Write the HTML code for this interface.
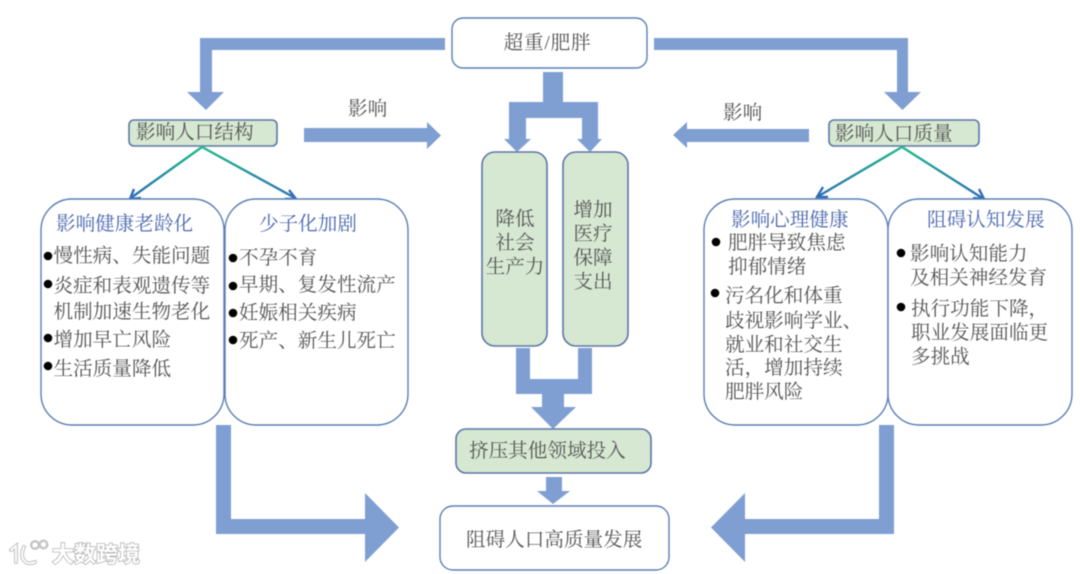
<!DOCTYPE html>
<html lang="zh">
<head>
<meta charset="utf-8">
<style>
html,body{margin:0;padding:0;background:#fff;width:1080px;height:574px;overflow:hidden}
svg{display:block;filter:blur(0.5px)}
text{font-family:"Liberation Serif","Noto Serif CJK SC",serif;font-size:19.6px;fill:#555;dominant-baseline:central;transform:translateY(1.4px)}
.t{fill:#4a68ad}
.m{text-anchor:middle}
.a{fill:#7f9fd3}
.w{fill:#fff;stroke:#5b7fb3;stroke-width:1.4}
.g{fill:#d6e8d2;stroke:#5b76a6;stroke-width:1.6}
.l{fill:none;stroke-width:2.4}
</style>
</head>
<body>
<svg width="1080" height="574" viewBox="0 0 1080 574" xmlns="http://www.w3.org/2000/svg">
<defs>
<linearGradient id="gl" gradientUnits="userSpaceOnUse" x1="0" y1="147" x2="0" y2="199"><stop offset="0" stop-color="#1fbb88"/><stop offset="1" stop-color="#2f6db8"/></linearGradient>
</defs>
<rect width="1080" height="574" fill="#fff"/>

<!-- Blue arrows -->
<polygon class="a" points="445,38 200,38 200,92 187,92 206,110 224,92 212,92 212,50 445,50"/>
<polygon class="a" points="654,38 908,38 908,92 921,92 902.5,110 884,92 897,92 897,50 654,50"/>
<polygon class="a" points="304,128 427,128 427,122 441,135.5 427,149 427,142 304,142"/>
<polygon class="a" points="809,129 687,129 687,122 673,135 687,148 687,142 809,142"/>
<polygon class="a" points="543,72 563,72 563,102 598,102 598,139 602,139 590,152 577,139 582,139 582,118 526,118 526,139 531,139 517,152 504,139 509,139 509,102 543,102"/>
<polygon class="a" points="516,348 530,348 530,379 578,379 578,348 592,348 592,394 564,394 564,407 576,407 553,429 531,407 542,407 542,394 516,394"/>
<polygon class="a" points="546,477 562,477 562,491 570,491 553,504 537,491 546,491"/>
<polygon class="a" points="216,425 231,425 231,519 365,519 365,493 399,527.5 365,562 365,534 216,534"/>
<polygon class="a" points="894,425 879,425 879,519 745,519 745,493 711,527.5 745,562 745,534 894,534"/>

<!-- Center boxes -->
<rect class="w" x="452" y="18" width="195" height="50" rx="11"/>
<text class="m" x="547.5" y="42" style="letter-spacing:0.8px">超重/肥胖</text>
<rect class="g" x="482" y="152" width="65" height="194" rx="13"/>
<rect class="g" x="563" y="152" width="65" height="194" rx="13"/>
<text class="m" x="515" y="218">降低</text>
<text class="m" x="515" y="242">社会</text>
<text class="m" x="515" y="266">生产力</text>
<text class="m" x="593" y="209">增加</text>
<text class="m" x="593" y="233">医疗</text>
<text class="m" x="593" y="257">保障</text>
<text class="m" x="593" y="281">支出</text>
<rect class="g" x="456" y="429" width="195" height="44" rx="10"/>
<text x="469" y="450">挤压其他领域投入</text>
<rect class="w" x="440" y="506" width="229" height="64" rx="13"/>
<text x="466" y="539">阻碍人口高质量发展</text>

<!-- Left group -->
<rect class="g" x="129" y="120" width="148" height="26" rx="5" stroke-width="1.3"/>
<text x="136" y="131.5">影响人口结构</text>
<text x="348" y="108">影响</text>
<g class="l" stroke="url(#gl)">
<path d="M202 147L130 198.500"/>
<path d="M202 147L296 198.500"/>
</g>
<path class="l" stroke="#2f6db8" d="M134 189L130 199L141 198M285 199L296 199L289 190"/>
<rect class="w" x="41" y="199" width="183" height="226" rx="31"/>
<rect class="w" x="225" y="199" width="183" height="226" rx="31"/>
<text class="t" x="56" y="223">影响健康老龄化</text>
<text class="t" x="259" y="223">少子化加剧</text>
<g fill="#000">
<circle cx="48" cy="256" r="4.3"/><circle cx="48" cy="284" r="4.3"/><circle cx="48" cy="338" r="4.3"/><circle cx="48" cy="366" r="4.3"/>
<circle cx="233" cy="258" r="4.3"/><circle cx="233" cy="286" r="4.3"/><circle cx="233" cy="313" r="4.3"/><circle cx="233" cy="340" r="4.3"/>
</g>
<text x="53.500" y="255">慢性病、失能问题</text>
<text x="53.500" y="285">炎症和表观遗传等</text>
<text x="53.500" y="311">机制加速生物老化</text>
<text x="53.500" y="339">增加早亡风险</text>
<text x="53.500" y="368">生活质量降低</text>
<text x="239" y="257">不孕不育</text>
<text x="239" y="284">早期、复发性流产</text>
<text x="239" y="312">妊娠相关疾病</text>
<text x="239" y="340">死产、新生儿死亡</text>

<!-- Right group -->
<rect class="g" x="829" y="120" width="150" height="26" rx="5" stroke-width="1.3"/>
<text x="835" y="133">影响人口质量</text>
<text x="723" y="112">影响</text>
<g class="l" stroke="url(#gl)">
<path d="M902 147L817 197"/>
<path d="M902 147L983 198.500"/>
</g>
<path class="l" stroke="#2f6db8" d="M823 187L817 197L828 197M973 198L984 199L979 189"/>
<rect class="w" x="704" y="199" width="184" height="226" rx="31"/>
<rect class="w" x="888" y="199" width="184" height="226" rx="31"/>
<text class="t" x="731" y="219">影响心理健康</text>
<text class="t" x="927" y="219">阻碍认知发展</text>
<g fill="#000">
<circle cx="716" cy="242" r="4.3"/><circle cx="715" cy="293" r="4.3"/>
<circle cx="901" cy="253" r="4.3"/><circle cx="901" cy="307" r="4.3"/>
</g>
<text x="728" y="242">肥胖导致焦虑</text>
<text x="728" y="266">抑郁情绪</text>
<text x="725" y="295">污名化和体重</text>
<text x="725" y="320">歧视影响学业、</text>
<text x="725" y="344">就业和社交生</text>
<text x="725" y="367">活，增加持续</text>
<text x="725" y="391">肥胖风险</text>
<text x="910" y="253">影响认知能力</text>
<text x="910" y="277">及相关神经发育</text>
<text x="911" y="308">执行功能下降，</text>
<text x="911" y="332">职业发展面临更</text>
<text x="911" y="356">多挑战</text>

<!-- Watermark -->
<g fill="none" stroke="#c4c4c4" stroke-width="4" stroke-linecap="round">
<path d="M11 550L16 546V562"/>
<path d="M24 547C19 556 24 567 35 562"/>
<circle cx="35" cy="545" r="3.800" stroke-width="2.400"/>
<circle cx="43.500" cy="544.500" r="3.800" stroke-width="2.400"/>
</g>
<g fill="none" stroke="#fff" stroke-width="1.800" stroke-linecap="round">
<path d="M11 550L16 546V562"/>
<path d="M24 547C19 556 24 567 35 562"/>
</g>
<text x="52" y="553" style="font-family:'Liberation Sans','Noto Sans CJK SC',sans-serif;font-size:22px;font-weight:700;fill:#fff;stroke:#b5b5b5;stroke-width:1.600px;paint-order:stroke">大数跨境</text>
</svg>
</body>
</html>
